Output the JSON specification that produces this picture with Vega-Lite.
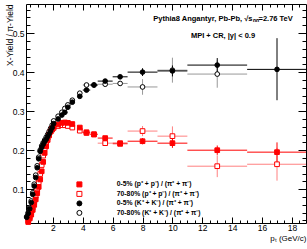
{
"$schema": "https://vega.github.io/schema/vega-lite/v6.json",
"width": 280, "height": 219,
"autosize": {"type": "none"},
"padding": {"left": 26, "top": 4, "right": 1, "bottom": 26},
"background": "white",
"config": {
  "view": {"stroke": "black", "strokeWidth": 1},
  "font": "Liberation Sans",
  "axis": {"grid": false, "domain": false, "tickColor": "black", "labelColor": "black", "labelFont": "Liberation Sans", "labelFontSize": 8.5, "titleFont": "Liberation Sans", "titleColor": "black", "titleFontWeight": "normal", "titleFontSize": 8.5},
  "legend": {"orient": "none", "legendX": 33, "legendY": 177, "padding": 0, "labelFont": "Liberation Sans", "labelFontSize": 6.8, "labelFontWeight": "bold", "labelColor": "black", "symbolSize": 25, "symbolStrokeWidth": 1, "rowPadding": -0.5, "symbolOffset": 17, "labelOffset": 34}
},
"title": {"text": "Pythia8 Angantyr, Pb-Pb, √sₙₙ=2.76 TeV", "subtitle": "MPI + CR, |y| < 0.9", "anchor": "middle", "frame": "group", "dx": 57, "offset": -36, "fontSize": 7.5, "subtitleFontSize": 7.5, "fontWeight": "bold", "subtitleFontWeight": "bold", "subtitlePadding": 10, "color": "black", "subtitleColor": "black", "font": "Liberation Sans", "subtitleFont": "Liberation Sans"},
"data": {"values": [
{"s":"pp","x":0.35,"y":0.019},{"s":"pp","x":0.45,"y":0.029},{"s":"pp","x":0.55,"y":0.040},{"s":"pp","x":0.65,"y":0.053},{"s":"pp","x":0.75,"y":0.067},{"s":"pp","x":0.85,"y":0.083},{"s":"pp","x":0.95,"y":0.100},{"s":"pp","x":1.05,"y":0.118},{"s":"pp","x":1.15,"y":0.139},{"s":"pp","x":1.25,"y":0.162},{"s":"pp","x":1.35,"y":0.186},{"s":"pp","x":1.45,"y":0.205},{"s":"pp","x":1.55,"y":0.220},{"s":"pp","x":1.65,"y":0.232},{"s":"pp","x":1.75,"y":0.241},{"s":"pp","x":1.85,"y":0.248},{"s":"pp","x":1.95,"y":0.253},{"s":"pp","x":2.05,"y":0.257},{"s":"pp","x":2.35,"y":0.262},{"s":"pp","x":2.6,"y":0.264},{"s":"pp","x":2.8,"y":0.264},{"s":"pp","x":3.0,"y":0.262},{"s":"pp","x":3.3,"y":0.258},{"s":"pp","x":3.8,"y":0.250},
{"s":"pp","x":4.25,"y":0.244,"xl":4,"xh":4.5},{"s":"pp","x":4.75,"y":0.240,"xl":4.5,"xh":5},{"s":"pp","x":5.5,"y":0.218,"xl":5,"xh":6},{"s":"pp","x":6.5,"y":0.216,"xl":6,"xh":7},
{"s":"pp","x":8,"y":0.249,"xl":7,"xh":9,"yl":0.236,"yh":0.262},{"s":"pp","x":10,"y":0.236,"xl":9,"xh":11,"yl":0.211,"yh":0.261},{"s":"pp","x":13,"y":0.159,"xl":11,"xh":15,"yl":0.131,"yh":0.187},{"s":"pp","x":17,"y":0.164,"xl":15,"xh":19,"yl":0.122,"yh":0.206},
{"s":"kp","x":0.25,"y":0.030},{"s":"kp","x":0.35,"y":0.040},{"s":"kp","x":0.45,"y":0.053},{"s":"kp","x":0.55,"y":0.070},{"s":"kp","x":0.65,"y":0.091},{"s":"kp","x":0.75,"y":0.113},{"s":"kp","x":0.85,"y":0.136},{"s":"kp","x":0.95,"y":0.160},{"s":"kp","x":1.05,"y":0.182},{"s":"kp","x":1.15,"y":0.200},{"s":"kp","x":1.25,"y":0.211},{"s":"kp","x":1.35,"y":0.219},{"s":"kp","x":1.45,"y":0.226},{"s":"kp","x":1.55,"y":0.233},{"s":"kp","x":1.65,"y":0.240},{"s":"kp","x":1.75,"y":0.248},{"s":"kp","x":1.85,"y":0.256},{"s":"kp","x":1.95,"y":0.264},{"s":"kp","x":2.05,"y":0.275},{"s":"kp","x":2.35,"y":0.287},{"s":"kp","x":2.6,"y":0.297},{"s":"kp","x":2.8,"y":0.307},{"s":"kp","x":3.0,"y":0.316},{"s":"kp","x":3.3,"y":0.328},{"s":"kp","x":3.8,"y":0.346},
{"s":"kp","x":4.25,"y":0.367,"xl":4,"xh":4.5},{"s":"kp","x":4.75,"y":0.367,"xl":4.5,"xh":5},{"s":"kp","x":5.5,"y":0.369,"xl":5,"xh":6},{"s":"kp","x":6.5,"y":0.371,"xl":6,"xh":7},
{"s":"kp","x":8,"y":0.362,"xl":7,"xh":9,"yl":0.342,"yh":0.382},{"s":"kp","x":10,"y":0.405,"xl":9,"xh":11,"yl":0.373,"yh":0.437},{"s":"kp","x":13,"y":0.395,"xl":11,"xh":15,"yl":0.360,"yh":0.430},
{"s":"pc","x":0.35,"y":0.016},{"s":"pc","x":0.45,"y":0.025},{"s":"pc","x":0.55,"y":0.035},{"s":"pc","x":0.65,"y":0.047},{"s":"pc","x":0.75,"y":0.060},{"s":"pc","x":0.85,"y":0.074},{"s":"pc","x":0.95,"y":0.090},{"s":"pc","x":1.05,"y":0.106},{"s":"pc","x":1.15,"y":0.125},{"s":"pc","x":1.25,"y":0.146},{"s":"pc","x":1.35,"y":0.170},{"s":"pc","x":1.45,"y":0.193},{"s":"pc","x":1.55,"y":0.210},{"s":"pc","x":1.65,"y":0.226},{"s":"pc","x":1.75,"y":0.238},{"s":"pc","x":1.85,"y":0.248},{"s":"pc","x":1.95,"y":0.255},{"s":"pc","x":2.05,"y":0.260},{"s":"pc","x":2.35,"y":0.266},{"s":"pc","x":2.6,"y":0.270},{"s":"pc","x":2.8,"y":0.271},{"s":"pc","x":3.0,"y":0.270},{"s":"pc","x":3.3,"y":0.267},{"s":"pc","x":3.8,"y":0.258},
{"s":"pc","x":4.25,"y":0.246,"xl":4,"xh":4.5},{"s":"pc","x":4.75,"y":0.241,"xl":4.5,"xh":5},{"s":"pc","x":5.5,"y":0.231,"xl":5,"xh":6},{"s":"pc","x":6.5,"y":0.218,"xl":6,"xh":7},
{"s":"pc","x":8,"y":0.223,"xl":7,"xh":9,"yl":0.215,"yh":0.231},{"s":"pc","x":10,"y":0.218,"xl":9,"xh":11,"yl":0.206,"yh":0.230},{"s":"pc","x":13,"y":0.200,"xl":11,"xh":15,"yl":0.188,"yh":0.212},{"s":"pc","x":17,"y":0.195,"xl":15,"xh":19,"yl":0.170,"yh":0.220},
{"s":"kc","x":0.25,"y":0.028},{"s":"kc","x":0.35,"y":0.038},{"s":"kc","x":0.45,"y":0.050},{"s":"kc","x":0.55,"y":0.066},{"s":"kc","x":0.65,"y":0.087},{"s":"kc","x":0.75,"y":0.108},{"s":"kc","x":0.85,"y":0.130},{"s":"kc","x":0.95,"y":0.155},{"s":"kc","x":1.05,"y":0.178},{"s":"kc","x":1.15,"y":0.197},{"s":"kc","x":1.25,"y":0.207},{"s":"kc","x":1.35,"y":0.215},{"s":"kc","x":1.45,"y":0.222},{"s":"kc","x":1.55,"y":0.228},{"s":"kc","x":1.65,"y":0.235},{"s":"kc","x":1.75,"y":0.242},{"s":"kc","x":1.85,"y":0.250},{"s":"kc","x":1.95,"y":0.258},{"s":"kc","x":2.05,"y":0.268},{"s":"kc","x":2.35,"y":0.280},{"s":"kc","x":2.6,"y":0.290},{"s":"kc","x":2.8,"y":0.297},{"s":"kc","x":3.0,"y":0.310},{"s":"kc","x":3.3,"y":0.323},{"s":"kc","x":3.8,"y":0.338},
{"s":"kc","x":4.25,"y":0.354,"xl":4,"xh":4.5},{"s":"kc","x":4.75,"y":0.367,"xl":4.5,"xh":5},{"s":"kc","x":5.5,"y":0.377,"xl":5,"xh":6},{"s":"kc","x":6.5,"y":0.388,"xl":6,"xh":7},
{"s":"kc","x":8,"y":0.400,"xl":7,"xh":9,"yl":0.390,"yh":0.410},{"s":"kc","x":10,"y":0.403,"xl":9,"xh":11,"yl":0.389,"yh":0.417},{"s":"kc","x":13,"y":0.418,"xl":11,"xh":15,"yl":0.400,"yh":0.436},{"s":"kc","x":17,"y":0.407,"xl":15,"xh":19,"yl":0.328,"yh":0.487}
]},
"layer": [
 {"transform": [{"filter": "datum.xl != null"}],
  "mark": {"type": "rule", "strokeWidth": 1, "clip": true},
  "encoding": {
   "x": {"field": "xl", "type": "quantitative", "scale": {"domain": [0.2, 18.94], "nice": false, "zero": false},
     "axis": {"orient": "bottom", "values": [2,4,6,8,10,12,14,16,18], "tickSize": -6, "labelPadding": 6, "title": "pₜ (GeV/c)", "titleFontSize": 8, "titleAnchor": "end", "titleAlign": "right", "titleX": 280, "titleY": 17, "titleBaseline": "alphabetic"}},
   "x2": {"field": "xh"},
   "y": {"field": "y", "type": "quantitative", "scale": {"domain": [0.0135, 0.5745], "nice": false, "zero": false},
     "axis": {"orient": "left", "values": [0.1,0.2,0.3,0.4,0.5], "format": ".1f", "tickSize": -8, "labelPadding": 10, "title": "X-Yield / π-Yield", "titleAngle": -90, "titleAlign": "right", "titleBaseline": "middle", "titleX": -17, "titleY": 0}},
   "color": {"field": "s", "type": "nominal", "legend": null, "scale": {"domain": ["kc","kp","pc","pp"], "range": ["#000000","#999999","#ff0000","#ff8080"]}}
  }},
 {"transform": [{"filter": "datum.yl != null"}],
  "mark": {"type": "rule", "strokeWidth": 1, "clip": true},
  "encoding": {
   "x": {"field": "x", "type": "quantitative", "scale": {"domain": [0.2, 18.94], "nice": false, "zero": false},
     "axis": {"orient": "bottom", "values": [0.5,1,1.5,2.5,3,3.5,4.5,5,5.5,6.5,7,7.5,8.5,9,9.5,10.5,11,11.5,12.5,13,13.5,14.5,15,15.5,16.5,17,17.5,18.5], "tickSize": -3, "labels": false, "title": null}},
   "y": {"field": "yl", "type": "quantitative", "scale": {"domain": [0.0135, 0.5745], "nice": false, "zero": false},
     "axis": {"orient": "left", "values": [0.02,0.04,0.06,0.08,0.12,0.14,0.16,0.18,0.22,0.24,0.26,0.28,0.32,0.34,0.36,0.38,0.42,0.44,0.46,0.48,0.52,0.54,0.56], "tickSize": -4, "labels": false, "title": null}},
   "y2": {"field": "yh"},
   "color": {"field": "s", "type": "nominal", "legend": null, "scale": {"domain": ["kc","kp","pc","pp"], "range": ["#000000","#999999","#ff0000","#ff8080"]}}
  }},
 {"transform": [{"filter": "datum.s == 'pp' || datum.s == 'kp'"}],
  "mark": {"type": "point", "size": 22, "strokeWidth": 1, "opacity": 1},
  "encoding": {
   "x": {"field": "x", "type": "quantitative", "scale": {"domain": [0.2, 18.94], "nice": false, "zero": false},
     "axis": {"orient": "top", "values": [2,4,6,8,10,12,14,16,18], "tickSize": -6, "labels": false, "title": null}},
   "y": {"field": "y", "type": "quantitative", "scale": {"domain": [0.0135, 0.5745], "nice": false, "zero": false},
     "axis": {"orient": "right", "values": [0.1,0.2,0.3,0.4,0.5], "tickSize": -8, "labels": false, "title": null}},
   "fill": {"field": "s", "type": "nominal", "scale": {"domain": ["pc","pp","kc","kp"], "range": ["#ff0000","#ffffff","#000000","#ffffff"]}, "title": null,
     "legend": {"labelExpr": "{'pc': '0-5% (p⁺ + p⁻) / (π⁺ + π⁻)', 'pp': '70-80% (p⁺ + p⁻) / (π⁺ + π⁻)', 'kc': '0-5% (K⁺ + K⁻) / (π⁺ + π⁻)', 'kp': '70-80% (K⁺ + K⁻) / (π⁺ + π⁻)'}[datum.value]"}},
   "stroke": {"field": "s", "type": "nominal", "scale": {"domain": ["pc","pp","kc","kp"], "range": ["#ff0000","#ff0000","#000000","#000000"]}, "title": null},
   "shape": {"field": "s", "type": "nominal", "scale": {"domain": ["pc","pp","kc","kp"], "range": ["square","square","circle","circle"]}, "title": null}
  }},
 {"transform": [{"filter": "datum.s == 'pc' || datum.s == 'kc'"}],
  "mark": {"type": "point", "size": 22, "strokeWidth": 1, "opacity": 1},
  "encoding": {
   "x": {"field": "x", "type": "quantitative", "scale": {"domain": [0.2, 18.94], "nice": false, "zero": false},
     "axis": {"orient": "top", "values": [0.5,1,1.5,2.5,3,3.5,4.5,5,5.5,6.5,7,7.5,8.5,9,9.5,10.5,11,11.5,12.5,13,13.5,14.5,15,15.5,16.5,17,17.5,18.5], "tickSize": -3, "labels": false, "title": null}},
   "y": {"field": "y", "type": "quantitative", "scale": {"domain": [0.0135, 0.5745], "nice": false, "zero": false},
     "axis": {"orient": "right", "values": [0.02,0.04,0.06,0.08,0.12,0.14,0.16,0.18,0.22,0.24,0.26,0.28,0.32,0.34,0.36,0.38,0.42,0.44,0.46,0.48,0.52,0.54,0.56], "tickSize": -4, "labels": false, "title": null}},
   "fill": {"field": "s", "type": "nominal", "scale": {"domain": ["pc","pp","kc","kp"], "range": ["#ff0000","#ffffff","#000000","#ffffff"]}, "title": null,
     "legend": {"labelExpr": "{'pc': '0-5% (p⁺ + p⁻) / (π⁺ + π⁻)', 'pp': '70-80% (p⁺ + p⁻) / (π⁺ + π⁻)', 'kc': '0-5% (K⁺ + K⁻) / (π⁺ + π⁻)', 'kp': '70-80% (K⁺ + K⁻) / (π⁺ + π⁻)'}[datum.value]"}},
   "stroke": {"field": "s", "type": "nominal", "scale": {"domain": ["pc","pp","kc","kp"], "range": ["#ff0000","#ff0000","#000000","#000000"]}, "title": null},
   "shape": {"field": "s", "type": "nominal", "scale": {"domain": ["pc","pp","kc","kp"], "range": ["square","square","circle","circle"]}, "title": null}
  }}
],
"resolve": {"axis": {"x": "independent", "y": "independent"}}
}
